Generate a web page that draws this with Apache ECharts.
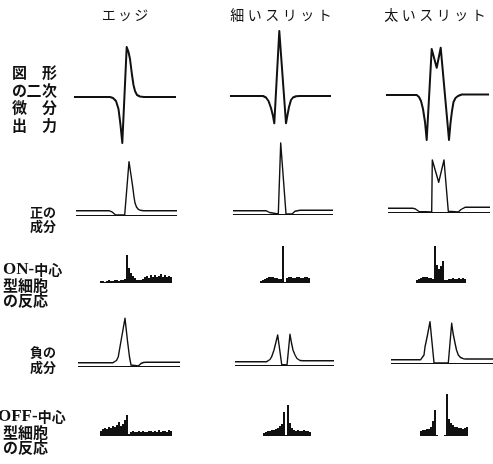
<!DOCTYPE html>
<html lang="ja">
<head>
<meta charset="UTF-8">
<title>エッジ・スリットへの反応</title>
<script src="https://cdn.jsdelivr.net/npm/echarts@6/dist/echarts.min.js"></script>
<style>html,body{margin:0;padding:0;background:#fff;}</style>
</head>
<body>
<div id="main" style="width:493px;height:464px;"></div>
<script type="text/javascript">
// 列見出しと行ラベル
var columnTitles = ['エッジ', '細いスリット', '太いスリット'];
var secondDerivLabel = ['図　形', 'の二次', '微　分', '出　力'];
var positiveLabel = ['正の', '成分'];
var onLabel = ['ON-', '中心', '型細胞', 'の反応'];
var negativeLabel = ['負の', '成分'];
var offLabel = ['OFF-', '中心', '型細胞', 'の反応'];

// 図形の二次微分出力 [位置, 出力]
var edgeSecondDeriv = [[0,0],[36,0],[39,-1],[42,-4],[44.5,-12],[46.5,-28],[48.3,-46],[52.7,50],[54.5,45],[56,38],[58,22],[59.5,12],[61,6],[63,2],[66,0.5],[70,0],[102,0]];
var thinSecondDeriv = [[0,0],[33,0],[36,-1.5],[38.5,-5],[41,-12],[43,-20],[44.3,-27.3],[49.3,65],[56,-27.3],[57.3,-20],[59,-11],[61,-4],[63,-1.5],[66,-0.3],[70,0],[101,0]];
var wideSecondDeriv = [[0,0],[30.7,0],[33,-2],[35,-6],[37,-14],[39,-27],[40.7,-45],[45.7,46],[50.7,27.3],[54.7,47.3],[63,-45],[64.5,-28],[66,-16],[67.5,-7],[69.5,-3],[72,-1],[75.7,0.5],[103,0.5]];

// 正の成分
var edgePositive = [[0,4.3],[33,4.3],[35,3.8],[36.5,2.8],[38,1.2],[39.5,0],[48.7,0],[53,53.3],[55,40],[56.7,28.3],[58,18],[59,12],[60.5,8],[62.3,5.7],[64.5,4.7],[67.3,4.3],[101,4.3]];
var thinPositive = [[0,3.3],[33,3.3],[35,2.8],[36.5,1.5],[37.7,0],[45.3,0],[47.7,71],[53,0],[59,0],[60.5,1.5],[62,2.8],[64,3.5],[67,3.7],[100,3.7]];
var widePositive = [[0,3.7],[25.3,3.7],[27.5,3],[29,1.8],[31,0.5],[32.7,0],[43.7,0],[44.3,52],[50.7,29.7],[56,52],[60.3,0.7],[61,0],[70.3,0],[71.5,1],[73,2.5],[75,4],[77,4.7],[102,4.7]];

// 負の成分
var edgeNegative = [[0,3.3],[35,3.3],[37,4],[38.5,5.5],[40.3,9.3],[43,25],[47,47.7],[49.5,25],[51.5,9],[53,1],[53.5,0],[60.3,0],[61.5,1],[63,2.5],[65.3,3.5],[68,3.7],[102,3.7]];
var thinNegative = [[0,3.3],[31.7,3.3],[33.5,4],[35,5.5],[36.7,8.3],[39,15],[42.7,30],[46.7,0.5],[47,0],[52,0],[52.3,1],[55,30.7],[56.5,22],[58,15],[60,10],[62,6.5],[65,4.5],[68,4.3],[99,4.3]];
var wideNegative = [[0,3.3],[29.7,3.3],[31.5,4.5],[33,8],[34,16],[36.5,28],[39,41.3],[43,0.3],[43.5,0],[57.3,0],[57.5,1],[60.7,39.7],[62,30],[64,20],[65.5,13],[67.3,8],[69.5,5.5],[72.3,4.3],[75,4],[102,4]];

// ON-中心型細胞の反応 (ビンごとの発火数)
var edgeOnCounts = [2,2,1,2,3,2,2,3,3,2,3,3,4,28,15,10,7,5,3,3,3,4,6,7,5,8,6,8,6,7,9,6,8,6,7,6];
var thinOnCounts = [2,3,4,5,6,6,6,5,5,4,4,37,1,5,6,6,5,5,6,6,5,5,6,6,5];
var wideOnCounts = [3,4,5,6,6,6,5,5,4,37,18,14,17,22,3,3,4,4,5,4,4,5,4,5,4];

// OFF-中心型細胞の反応
var edgeOffCounts = [5,7,8,7,9,8,10,9,11,14,10,12,16,21,2,4,5,4,4,5,4,5,4,4,5,5,4,5,4,6,4,5,5,4,6,5];
var thinOffCounts = [3,4,5,5,6,6,7,8,10,12,24,1,31,13,8,6,5,6,5,5,6,5,5,4];
var wideOffCounts = [5,6,6,7,7,9,15,26,1,0,0,0,1,42,17,13,11,9,9,8,8,7,8,9];

var ink = '#111';
var myChart = echarts.init(document.getElementById('main'));

var linePanels = [
    {data: edgeSecondDeriv, left: 74, base: 97, span: 102, ymin: -50, ymax: 70, lw: 2, zero: false},
    {data: thinSecondDeriv, left: 230, base: 96, span: 101, ymin: -50, ymax: 70, lw: 2, zero: false},
    {data: wideSecondDeriv, left: 386, base: 95, span: 103, ymin: -50, ymax: 70, lw: 2, zero: false},
    {data: edgePositive, left: 76, base: 215, span: 101, ymin: -5, ymax: 75, lw: 1.4, zero: true},
    {data: thinPositive, left: 233, base: 214, span: 100, ymin: -5, ymax: 75, lw: 1.4, zero: true},
    {data: widePositive, left: 388, base: 212, span: 102, ymin: -5, ymax: 75, lw: 1.4, zero: true},
    {data: edgeNegative, left: 78, base: 366, span: 102, ymin: -5, ymax: 75, lw: 1.4, zero: true},
    {data: thinNegative, left: 235, base: 365, span: 99, ymin: -5, ymax: 75, lw: 1.4, zero: true},
    {data: wideNegative, left: 391, base: 363, span: 102, ymin: -5, ymax: 75, lw: 1.4, zero: true}
];

var histPanels = [
    {data: edgeOnCounts, left: 100, base: 283},
    {data: thinOnCounts, left: 260, base: 283},
    {data: wideOnCounts, left: 416, base: 283},
    {data: edgeOffCounts, left: 100, base: 436},
    {data: thinOffCounts, left: 263, base: 436},
    {data: wideOffCounts, left: 420, base: 436}
];

var option = {
    animation: false,
    backgroundColor: '#fff',
    grid: [], xAxis: [], yAxis: [], series: [], graphic: []
};

linePanels.forEach(function (p) {
    var i = option.grid.length;
    option.grid.push({left: p.left, top: p.base - p.ymax, width: p.span, height: p.ymax - p.ymin});
    option.xAxis.push({type: 'value', gridIndex: i, min: 0, max: p.span, show: false});
    option.yAxis.push({type: 'value', gridIndex: i, min: p.ymin, max: p.ymax, show: false});
    var s = {
        type: 'line', xAxisIndex: i, yAxisIndex: i, data: p.data,
        symbol: 'none', smooth: false, silent: true,
        lineStyle: {color: ink, width: p.lw, join: 'round'}
    };
    if (p.zero) {
        s.markLine = {
            silent: true, symbol: ['none', 'none'], label: {show: false},
            lineStyle: {color: ink, width: 1.1, type: 'solid'},
            data: [{yAxis: 0}]
        };
    }
    option.series.push(s);
});

histPanels.forEach(function (p) {
    var i = option.grid.length;
    option.grid.push({left: p.left, top: p.base - 45, width: p.data.length * 2, height: 45});
    option.xAxis.push({type: 'category', gridIndex: i, data: p.data.map(function (v, k) { return k; }), show: false});
    option.yAxis.push({type: 'value', gridIndex: i, min: 0, max: 45, show: false});
    option.series.push({
        type: 'bar', xAxisIndex: i, yAxisIndex: i, data: p.data,
        barCategoryGap: '0%', silent: true, itemStyle: {color: ink}
    });
});

// テキスト
function addText(text, x, y, font, align) {
    option.graphic.push({
        type: 'text', x: x, y: y, silent: true,
        style: {text: text, fill: ink, font: font, textAlign: align || 'center', textVerticalAlign: 'middle'}
    });
}
var cjk = '"Noto Sans CJK JP"';
var titleX = [125, 281, 435];
var titleText = ['エ\u2006ッ\u2006ジ', '細\u2005い\u2005ス\u2005リ\u2005ッ\u2005ト', '太\u2005い\u2005ス\u2005リ\u2005ッ\u2005ト'];
columnTitles.forEach(function (t, k) { addText(titleText[k], titleX[k], 15, '14px ' + cjk); });

var charX = [19.5, 34, 49.5];
secondDerivLabel.forEach(function (row, r) {
    row.split('').forEach(function (ch, c) {
        if (ch !== '　') addText(ch, charX[c], 72.5 + r * 17.5, 'bold 15px ' + cjk);
    });
});
addText(positiveLabel[0], 56, 212, 'bold 13px ' + cjk, 'right');
addText(positiveLabel[1], 56, 226, 'bold 13px ' + cjk, 'right');
addText(negativeLabel[0], 56, 352, 'bold 13px ' + cjk, 'right');
addText(negativeLabel[1], 56, 367, 'bold 13px ' + cjk, 'right');

function addCellLabel(lbl, x0, y0) {
    option.graphic.push({
        type: 'text', x: x0, y: y0, silent: true,
        style: {
            text: '{a|' + lbl[0] + '}{b|' + lbl[1] + '}', textVerticalAlign: 'middle', textAlign: 'left',
            rich: {
                a: {fontFamily: '"Liberation Serif"', fontWeight: 'bold', fontSize: 17, fill: ink},
                b: {fontFamily: cjk, fontWeight: 'bold', fontSize: 14, fill: ink}
            }
        }
    });
    addText(lbl[2], 48, y0 + 15, 'bold 15px ' + cjk, 'right');
    addText(lbl[3], 48, y0 + 30, 'bold 15px ' + cjk, 'right');
}
addCellLabel(onLabel, 3, 270);
addCellLabel(offLabel, -2, 417);

myChart.setOption(option);
</script>
</body>
</html>
